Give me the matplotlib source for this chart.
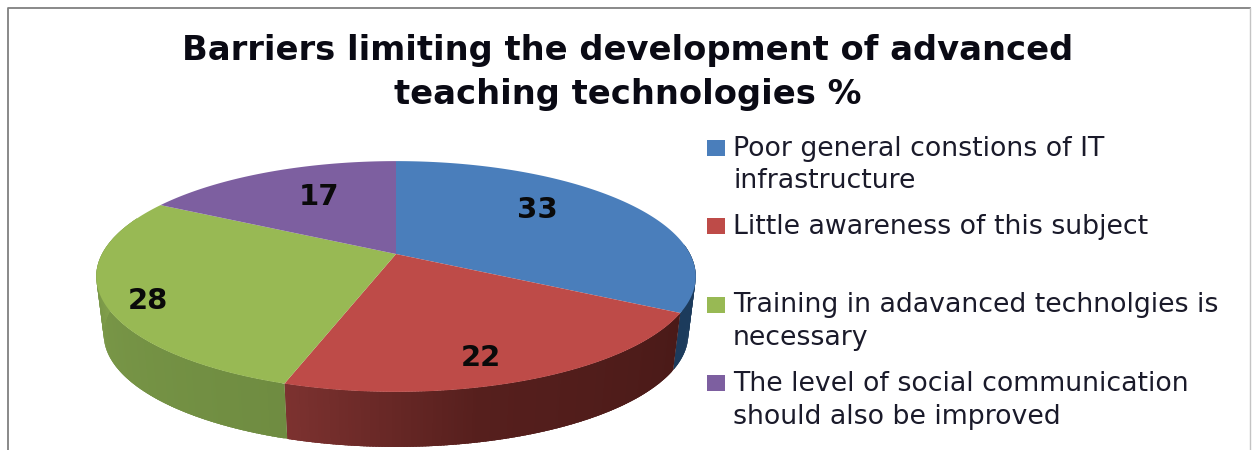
import numpy as np
import matplotlib
matplotlib.use('Agg')
import matplotlib.pyplot as plt
from matplotlib.patches import Rectangle

title_lines = ['Barriers limiting the development of advanced', 'teaching technologies %']
values = [33, 22, 28, 17]
categories = [
    ['Poor general constions of IT', 'infrastructure'],
    ['Little awareness of this subject'],
    ['Training in adavanced technolgies is', 'necessary'],
    ['The level of social communication', 'should also be improved'],
]
colors = ['#4a7ebb', '#be4b48', '#98b954', '#7d5fa0']

# side wall shade along each slice, clockwise
side_ramps = [
    ['#1c3b5c', '#1c3b5c', '#1c3b5c'],
    ['#4a1a18', '#561f1d', '#7d3230'],
    ['#6f8c41', '#7a9848', '#94b356'],
    ['#5c4577', '#5c4577', '#5c4577'],
]

# pie geometry in pixels
cx, cy = 396, 254
A, B, k = 294, 111, 0.195
depth = 58.5
bottom_scale = 0.975


def project(angle_deg, scale=1.0, shift=0.0):
    # angle runs clockwise from the top, far side of the disc comes out smaller
    a = np.radians(angle_deg)
    x, y = np.sin(a), np.cos(a)
    w = 1 + k * y
    return cx + scale * A * x / w, cy - scale * B * y / w + shift


def ramp_color(ramp, t):
    rgb = np.array([matplotlib.colors.to_rgb(c) for c in ramp])
    return [np.interp(t, [0, 0.6, 1], rgb[:, n]) for n in range(3)]


fig = plt.figure(figsize=(12.52, 4.5), dpi=100)
ax = fig.add_axes([0, 0, 1, 1])
ax.set_xlim(0, 1252)
ax.set_ylim(450, 0)
ax.axis('off')

# frame
ax.plot([8, 8, 1250], [450, 7.5, 7.5], color='#808080', lw=1.3)
ax.plot([1250, 1250], [7.5, 450], color='#c4c4c4', lw=1)

edges = np.cumsum([0] + values) * 360 / sum(values)

# side wall, only the front half can be seen
for i in range(len(values)):
    lo = max(edges[i], 85)
    hi = min(edges[i + 1], 290)
    if hi <= lo:
        continue
    steps = np.linspace(lo, hi, int(hi - lo) * 2 + 2)
    for a0, a1 in zip(steps[:-1], steps[1:]):
        t = (a0 - edges[i]) / (edges[i + 1] - edges[i])
        # overlap the next strip a little so no seams show
        a1 = min(a1 + 0.8, hi)
        x0, y0 = project(a0)
        x1, y1 = project(a1)
        x2, y2 = project(a1, bottom_scale, depth)
        x3, y3 = project(a0, bottom_scale, depth)
        ax.fill([x0, x1, x2, x3], [y0, y1, y2, y3], color=ramp_color(side_ramps[i], t), lw=0)

# top face
for i in range(len(values)):
    angles = np.linspace(edges[i], edges[i + 1], 200)
    px, py = project(angles)
    ax.fill(np.r_[cx, px], np.r_[cy, py], color=colors[i], lw=0)

# value labels
label_pos = [(537, 210), (481, 358), (148, 301), (319, 197)]
for v, (lx, ly) in zip(values, label_pos):
    ax.text(lx, ly, str(v), fontsize=21, fontweight='bold', family='DejaVu Sans',
            color='#0a0a0a', ha='center', va='center')

# title
for line, ty in zip(title_lines, [60, 104]):
    ax.text(628, ty, line, fontsize=24.3, fontweight='bold', family='DejaVu Sans',
            color='#0a0a14', ha='center', va='baseline')

# legend, entries are spaced unevenly
legend_y = [156, 234, 312.5, 391]
line_gap = 32.5
for lines, col, ly in zip(categories, colors, legend_y):
    ax.add_patch(Rectangle((707, ly - 16), 18, 16, color=col, lw=0))
    for j, line in enumerate(lines):
        ax.text(733, ly + j * line_gap, line, fontsize=19.3, family='DejaVu Sans',
                color='#1a1a2a', ha='left', va='baseline')

fig.savefig('out.png', dpi=100)
